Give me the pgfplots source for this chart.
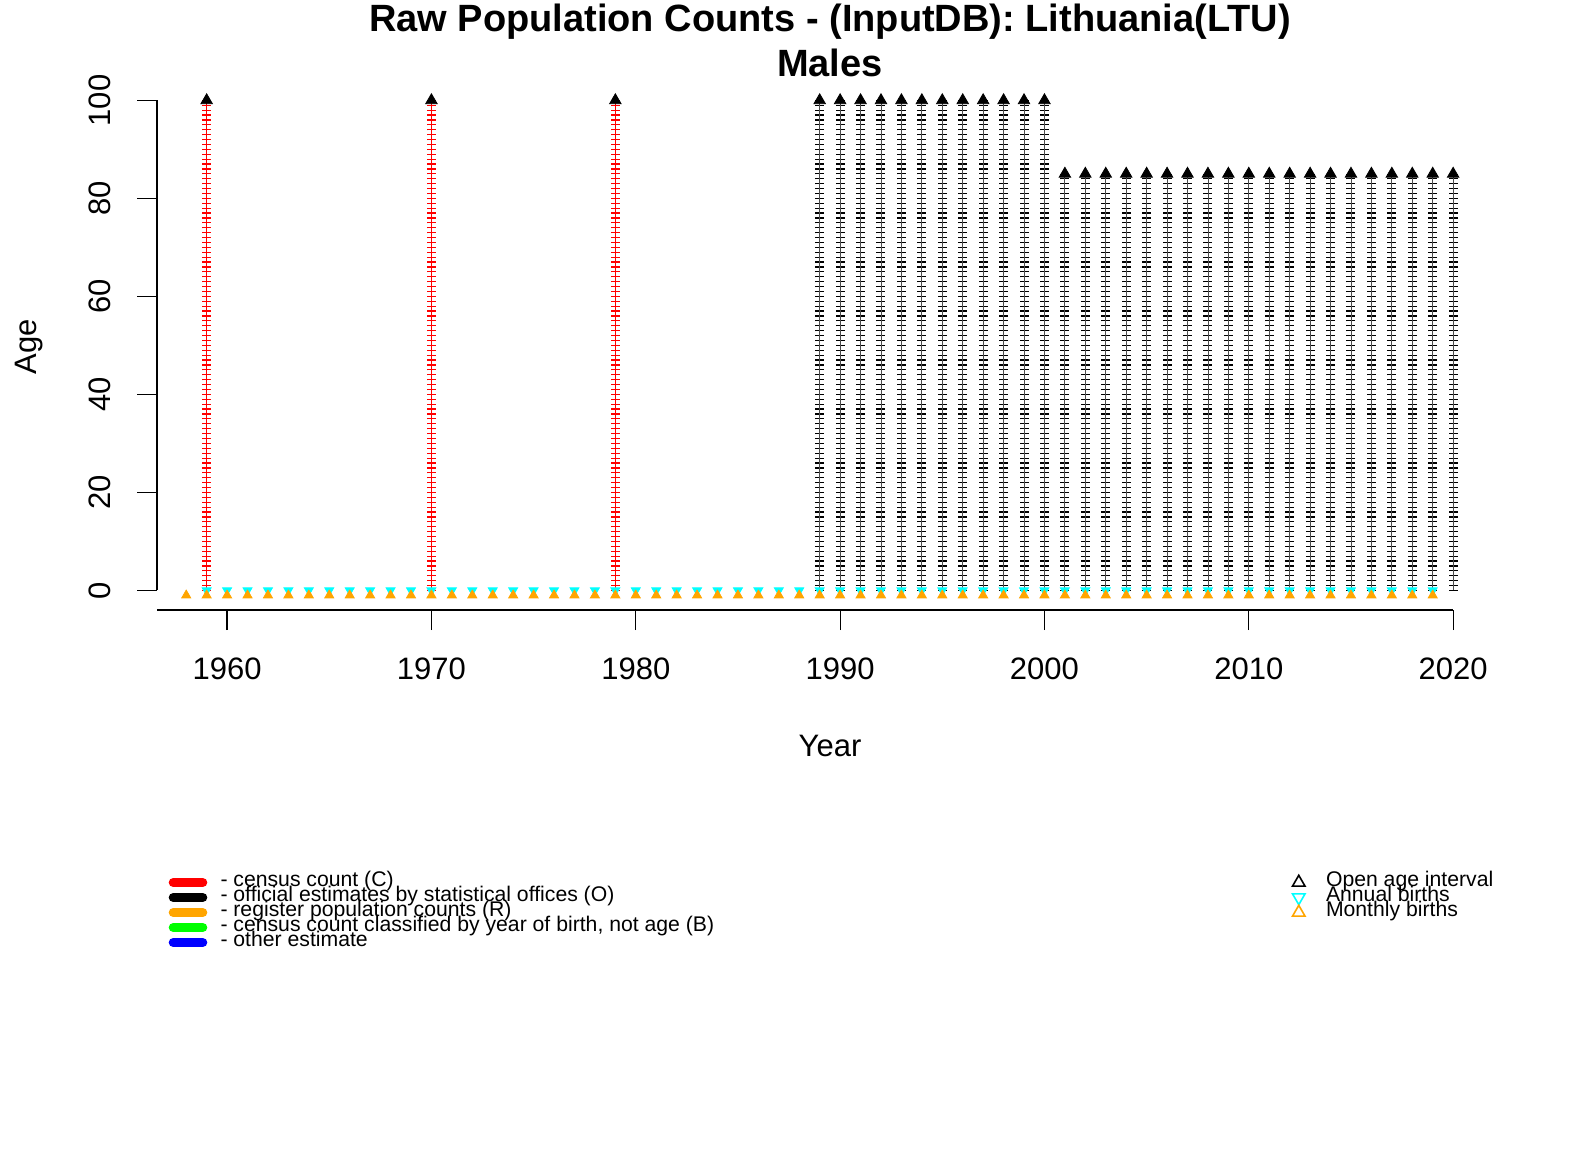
\documentclass[border=0pt]{standalone}
\usepackage{fontspec}
\setmainfont{Liberation Sans}
\usepackage{pgfplots}
\usepackage{pgfplotstable}
\pgfplotsset{compat=1.18}

\definecolor{Rred}{HTML}{FF0000}
\definecolor{Rorange}{HTML}{FFA500}
\definecolor{Rgreen}{HTML}{00FF00}
\definecolor{Rblue}{HTML}{0000FF}
\definecolor{Rcyan}{HTML}{00FFFF}

% census years (C), top = open age interval
\pgfplotstableread{
year top
1959 100
1970 100
1979 100
}\censustab

% official estimates (O)
\pgfplotstableread{
year top
1989 100
1990 100
1991 100
1992 100
1993 100
1994 100
1995 100
1996 100
1997 100
1998 100
1999 100
2000 100
2001 85
2002 85
2003 85
2004 85
2005 85
2006 85
2007 85
2008 85
2009 85
2010 85
2011 85
2012 85
2013 85
2014 85
2015 85
2016 85
2017 85
2018 85
2019 85
2020 85
}\officialtab

% annual births, plotted at age 0
\pgfplotstableread{
year age
1959 0
1960 0
1961 0
1962 0
1963 0
1964 0
1965 0
1966 0
1967 0
1968 0
1969 0
1970 0
1971 0
1972 0
1973 0
1974 0
1975 0
1976 0
1977 0
1978 0
1979 0
1980 0
1981 0
1982 0
1983 0
1984 0
1985 0
1986 0
1987 0
1988 0
1989 0
1990 0
1991 0
1992 0
1993 0
1994 0
1995 0
1996 0
1997 0
1998 0
1999 0
2000 0
2001 0
2002 0
2003 0
2004 0
2005 0
2006 0
2007 0
2008 0
2009 0
2010 0
2011 0
2012 0
2013 0
2014 0
2015 0
2016 0
2017 0
2018 0
2019 0
}\annualtab

% monthly births, plotted at age -1
\pgfplotstableread{
year age
1958 -1
1959 -1
1960 -1
1961 -1
1962 -1
1963 -1
1964 -1
1965 -1
1966 -1
1967 -1
1968 -1
1969 -1
1970 -1
1971 -1
1972 -1
1973 -1
1974 -1
1975 -1
1976 -1
1977 -1
1978 -1
1979 -1
1980 -1
1981 -1
1982 -1
1983 -1
1984 -1
1985 -1
1986 -1
1987 -1
1988 -1
1989 -1
1990 -1
1991 -1
1992 -1
1993 -1
1994 -1
1995 -1
1996 -1
1997 -1
1998 -1
1999 -1
2000 -1
2001 -1
2002 -1
2003 -1
2004 -1
2005 -1
2006 -1
2007 -1
2008 -1
2009 -1
2010 -1
2011 -1
2012 -1
2013 -1
2014 -1
2015 -1
2016 -1
2017 -1
2018 -1
2019 -1
}\monthlytab

\pgfplotsset{
  agecol/.style={ycomb, line width=4.5pt, dash pattern=on 0.6pt off 1.85pt, dash phase=0.3pt, forget plot},
  agestem/.style={ycomb, line width=0.4pt, forget plot},
}

\begin{document}
\begin{tikzpicture}
\path[use as bounding box] (0,0) rectangle (792pt,576pt);

\begin{axis}[
  at={(78.5pt,271pt)}, anchor=south west,
  x=10.217pt, y=2.45pt,
  xmin=1956.57, xmax=2021.67, ymin=-4, ymax=104,
  axis x line*=bottom, axis y line*=left,
  axis line style={draw=none},
  xtick={1960,1970,...,2020}, ytick={0,20,...,100},
  tick align=outside, major tick length=10pt,
  tick style={black, line width=0.6pt},
  ticklabel style={font=\fontsize{15.5}{18}\selectfont, inner sep=0pt},
  /pgf/number format/assume math mode=true,
  /pgf/number format/1000 sep={},
  xticklabel style={anchor=north},
  yticklabel style={rotate=90, anchor=south},
  xticklabel shift=13.5pt, yticklabel shift=13pt,
  clip=false,
  legend cell align=left,
  legend image code/.code={\draw[#1] (0pt,0pt) -- (14.7pt,0pt);},
  legend style={at={(0.0085,-0.500)}, anchor=north west, draw=none, fill=none,
    inner sep=0pt, row sep=0pt, column sep=6.6pt,
    font=\fontsize{10.6}{7.5}\selectfont,
    nodes={inner sep=0pt, text height=5.5pt, text depth=2pt}},
]
\draw[line width=0.6pt] (axis cs:1956.57,-4) -- (axis cs:2020,-4);
\draw[line width=0.6pt] (axis cs:1956.57,0) -- (axis cs:1956.57,100);

\addplot[agecol, Rred] table[x=year, y=top] {\censustab};
\addplot[agestem, Rred] table[x=year, y=top] {\censustab};
\addplot[agecol, black] table[x=year, y=top] {\officialtab};
\addplot[agestem, black!70] table[x=year, y=top] {\officialtab};

\addplot[only marks, mark=triangle*, mark size=3.3pt, black, forget plot] table[x=year, y=top] {\censustab};
\addplot[only marks, mark=triangle*, mark size=3.3pt, black, forget plot] table[x=year, y=top] {\officialtab};
\addplot[only marks, mark=triangle*, mark size=2.6pt, Rcyan, mark options={rotate=180}, forget plot] table[x=year, y=age] {\annualtab};
\addplot[only marks, mark=triangle*, mark size=2.6pt, Rorange, forget plot] table[x=year, y=age] {\monthlytab};

\addlegendimage{Rred, line width=4.6pt, line cap=round}
\addlegendentry{- census count (C)}
\addlegendimage{black, line width=4.6pt, line cap=round}
\addlegendentry{- official estimates by statistical offices (O)}
\addlegendimage{Rorange, line width=4.6pt, line cap=round}
\addlegendentry{- register population counts (R)}
\addlegendimage{Rgreen, line width=4.6pt, line cap=round}
\addlegendentry{- census count classified by year of birth, not age (B)}
\addlegendimage{Rblue, line width=4.6pt, line cap=round}
\addlegendentry{- other estimate}
\end{axis}

\begin{axis}[
  at={(78.5pt,271pt)}, anchor=south west,
  x=10.217pt, y=2.45pt,
  xmin=1956.57, xmax=2021.67, ymin=-4, ymax=104,
  hide axis,
  legend cell align=left,
  legend style={at={(0.8533,-0.500)}, anchor=north west, draw=none, fill=none,
    inner sep=0pt, row sep=0pt, column sep=10.5pt,
    font=\fontsize{10.6}{7.5}\selectfont,
    nodes={inner sep=0pt, text height=5.5pt, text depth=2pt}},
]
\addlegendimage{only marks, mark=triangle, mark size=3.6pt, black, line width=0.8pt}
\addlegendentry{Open age interval}
\addlegendimage{only marks, mark=triangle, mark size=3.6pt, Rcyan, line width=0.8pt, mark options={rotate=180}}
\addlegendentry{Annual births}
\addlegendimage{only marks, mark=triangle, mark size=3.6pt, Rorange, line width=0.8pt}
\addlegendentry{Monthly births}
\end{axis}

\node[font=\bfseries\fontsize{19}{20}\selectfont, anchor=base] at (415pt,560.35pt) {Raw Population Counts - (InputDB): Lithuania(LTU)};
\node[font=\bfseries\fontsize{19}{20}\selectfont, anchor=base] at (415pt,537.85pt) {Males};
\node[font=\fontsize{15.5}{18}\selectfont, anchor=base] at (415pt,197.5pt) {Year};
\node[font=\fontsize{15.5}{18}\selectfont, anchor=base, rotate=90] at (18pt,402.5pt) {Age};
\end{tikzpicture}
\end{document}
